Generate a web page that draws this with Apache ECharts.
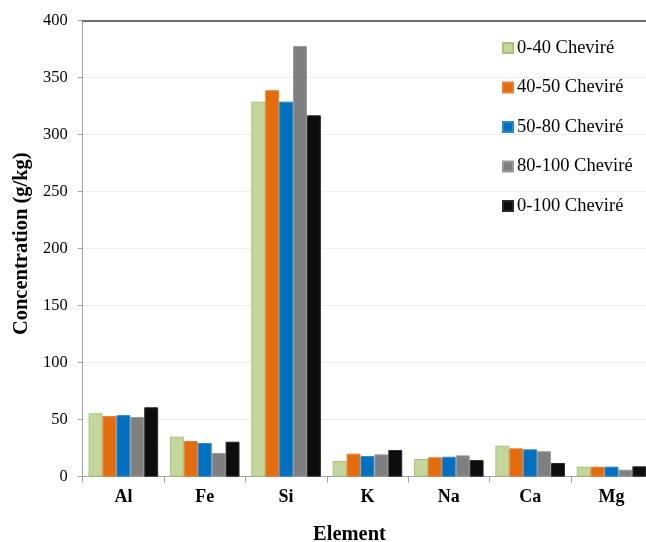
<!DOCTYPE html>
<html>
<head>
<meta charset="utf-8">
<script src="https://cdn.jsdelivr.net/npm/echarts@6/dist/echarts.min.js"></script>
<style>html,body{margin:0;padding:0;background:#fff}#c{width:646px;height:542px}</style>
</head>
<body>
<div id="c"></div>
<script>
const categories = ['Al', 'Fe', 'Si', 'K', 'Na', 'Ca', 'Mg'];
const seriesNames = ['0-40 Cheviré', '40-50 Cheviré', '50-80 Cheviré', '80-100 Cheviré', '0-100 Cheviré'];
const s0_40 = [55.6, 35.1, 329, 13.8, 15.5, 27.2, 8.8];
const s40_50 = [53.2, 31.3, 339, 20.2, 17.0, 24.9, 8.8];
const s50_80 = [54.0, 29.6, 329, 18.1, 17.5, 24.0, 8.8];
const s80_100 = [52.4, 20.8, 377.8, 19.6, 18.7, 22.3, 6.1];
const s0_100 = [60.9, 30.7, 317, 23.4, 14.6, 12.0, 9.1];
const yTicks = [0, 50, 100, 150, 200, 250, 300, 350, 400];

const colors = ['#C3D69B', '#E46C0A', '#0070C0', '#7F7F7F', '#0D0D0D'];
const borders = ['#A6C47A', '#E8803A', '#2F86C8', '#999999', '#2A2A2A'];
const values = [s0_40, s40_50, s50_80, s80_100, s0_100];

const chart = echarts.init(document.getElementById('c'), null, {renderer: 'canvas'});
const font = '"Liberation Serif", "Times New Roman", serif';
chart.setOption({
  animation: false,
  textStyle: {fontFamily: font},
  grid: {left: 82.7, top: 20.7, width: 569.5, height: 456, containLabel: false, outerBoundsMode: 'none'},
  legend: {
    orient: 'vertical',
    left: 497, top: 33.5,
    itemWidth: 10, itemHeight: 10, itemGap: 20.5,
    icon: 'rect',
    textStyle: {fontFamily: font, fontSize: 18.5, lineHeight: 19, color: '#000', padding: [0, 0, 0, -1]},
    data: seriesNames
  },
  xAxis: [{
    type: 'category',
    data: categories,
    name: 'Element',
    nameLocation: 'middle',
    nameGap: 48,
    nameTextStyle: {fontFamily: font, fontSize: 20.5, fontWeight: 'bold', color: '#000', padding: [0, 36, 0, 0]},
    axisLine: {lineStyle: {color: '#A0A0A0', width: 1}},
    axisTick: {show: true, length: 6, lineStyle: {color: '#A0A0A0'}},
    axisLabel: {fontFamily: font, fontSize: 18, fontWeight: 'bold', color: '#000', margin: 12},
    splitLine: {show: false}
  }, {
    type: 'category',
    position: 'top',
    data: categories,
    axisLine: {show: true, lineStyle: {color: '#404040', width: 1.5}},
    axisTick: {show: false},
    axisLabel: {show: false}
  }],
  yAxis: {
    type: 'value',
    min: 0, max: 400, interval: 50,
    name: 'Concentration (g/kg)',
    nameLocation: 'middle',
    nameGap: 50,
    nameTextStyle: {fontFamily: font, fontSize: 20.5, fontWeight: 'bold', color: '#000', padding: [0, 0, 0, 10]},
    axisLine: {show: true, lineStyle: {color: '#A0A0A0', width: 1}},
    axisTick: {show: true, length: 5, lineStyle: {color: '#A0A0A0'}},
    axisLabel: {fontFamily: font, fontSize: 16.5, color: '#000', margin: 15,
      formatter: v => yTicks.includes(v) ? String(v) : ''},
    splitLine: {show: true, lineStyle: {color: '#EEEEEE', width: 1}}
  },
  series: values.map((d, i) => ({
    name: seriesNames[i],
    type: 'bar',
    data: d,
    barGap: '0%',
    barCategoryGap: '14.5%',
    itemStyle: {color: colors[i], borderColor: borders[i], borderWidth: 1}
  }))
});
</script>
</body>
</html>
